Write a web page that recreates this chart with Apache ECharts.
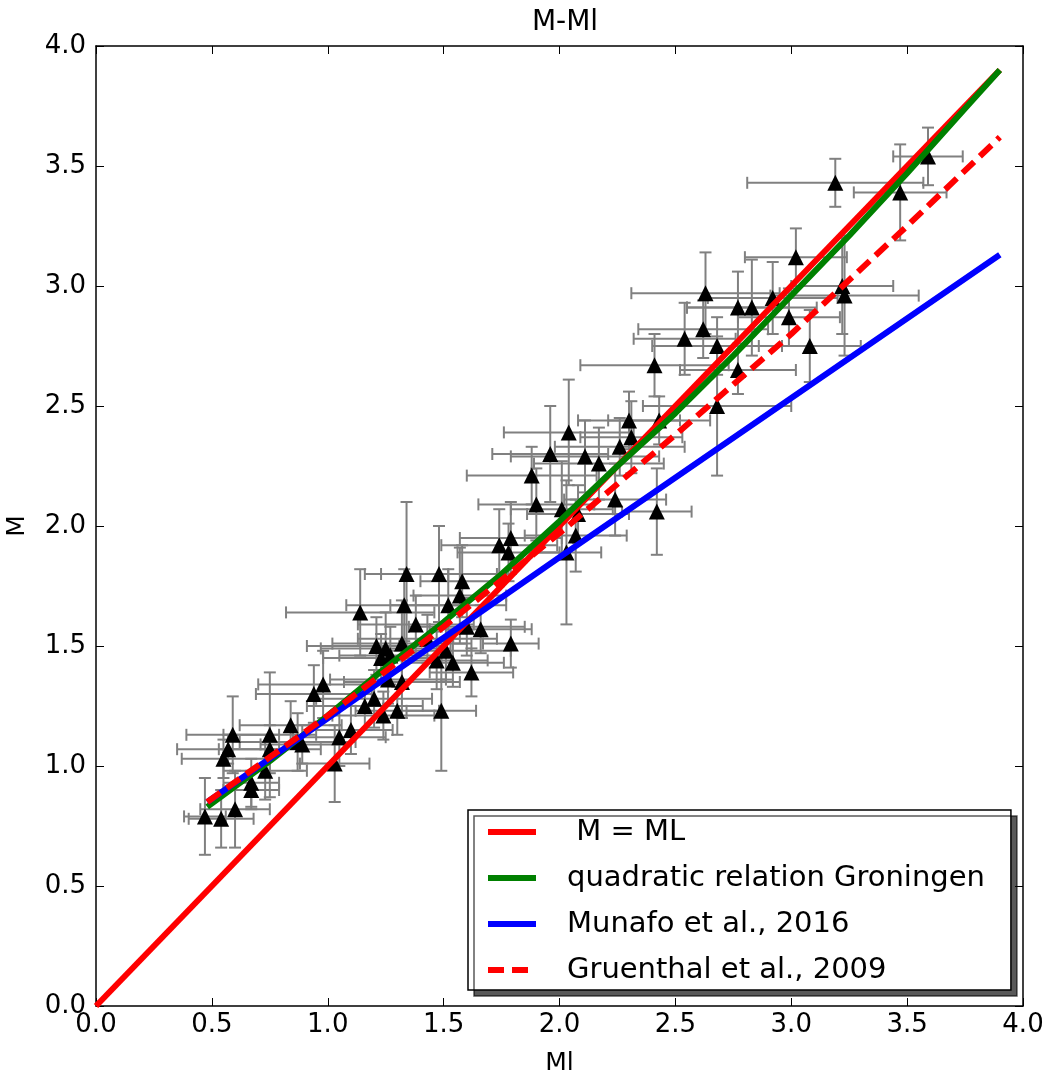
<!DOCTYPE html>
<html>
<head>
<meta charset="utf-8">
<script src="https://cdn.jsdelivr.net/npm/echarts@6/dist/echarts.min.js"></script>
<style>
  html, body { margin: 0; padding: 0; background: #fff; }
  #chart { width: 1050px; height: 1074px; }
</style>
</head>
<body>
<div id="chart"></div>
<script>
// observed events: local magnitude, moment magnitude and their errors
const ml = [0.47, 0.54, 0.60, 0.55, 0.57, 0.59, 0.67, 0.67, 0.73, 0.75, 0.75, 0.84, 0.87, 0.89, 0.94, 0.98, 1.03, 1.05, 1.10,
  1.16, 1.14, 1.20, 1.24, 1.21, 1.23, 1.25, 1.27, 1.26, 1.30, 1.32, 1.32, 1.33, 1.34, 1.38, 1.43, 1.47, 1.48, 1.49, 1.51,
  1.52, 1.54, 1.57, 1.58, 1.60, 1.62, 1.66, 1.79, 1.74, 1.79, 1.78, 1.88, 1.90, 1.96, 2.01, 2.04, 2.07, 2.03, 2.11, 2.17,
  2.24, 2.26, 2.30, 2.31, 2.43, 2.42, 2.41, 2.54, 2.62, 2.63, 2.68, 2.68, 2.77, 2.83, 2.77, 2.92, 2.99, 3.02, 3.19, 3.59,
  3.47, 3.22, 3.23, 3.08, 2.08];
const mw = [0.79, 0.78, 0.82, 1.03, 1.07, 1.13, 0.90, 0.93, 0.98, 1.07, 1.13, 1.17, 1.10, 1.09, 1.30, 1.34, 1.01, 1.12, 1.15,
  1.25, 1.64, 1.28, 1.21, 1.50, 1.45, 1.49, 1.46, 1.36, 1.23, 1.35, 1.51, 1.67, 1.80, 1.59, 1.53, 1.44, 1.80, 1.23, 1.48,
  1.67, 1.43, 1.71, 1.77, 1.58, 1.39, 1.57, 1.51, 1.92, 1.95, 1.89, 2.21, 2.09, 2.30, 2.07, 2.39, 1.96, 1.89, 2.29, 2.26,
  2.11, 2.33, 2.44, 2.37, 2.44, 2.06, 2.67, 2.78, 2.82, 2.97, 2.75, 2.50, 2.91, 2.91, 2.65, 2.95, 2.87, 3.12, 3.43, 3.54,
  3.39, 3.00, 2.96, 2.75, 2.05];
const mlErr = [0.09, 0.14, 0.15, 0.18, 0.22, 0.20, 0.12, 0.12, 0.18, 0.22, 0.20, 0.22, 0.25, 0.18, 0.25, 0.28, 0.15, 0.20, 0.18,
  0.25, 0.32, 0.25, 0.22, 0.30, 0.25, 0.28, 0.22, 0.25, 0.18, 0.25, 0.30, 0.25, 0.18, 0.25, 0.30, 0.22, 0.25, 0.15, 0.28,
  0.25, 0.22, 0.20, 0.18, 0.25, 0.18, 0.22, 0.12, 0.25, 0.22, 0.22, 0.28, 0.25, 0.25, 0.22, 0.28, 0.22, 0.15, 0.32, 0.28,
  0.22, 0.28, 0.22, 0.22, 0.22, 0.15, 0.32, 0.22, 0.28, 0.32, 0.28, 0.32, 0.22, 0.28, 0.25, 0.28, 0.22, 0.22, 0.38, 0.15,
  0.20, 0.22, 0.32, 0.22, 0.22];
const mwErr = [0.16, 0.12, 0.16, 0.08, 0.06, 0.16, 0.08, 0.10, 0.12, 0.10, 0.26, 0.10, 0.12, 0.08, 0.12, 0.14, 0.16, 0.12, 0.10,
  0.10, 0.18, 0.12, 0.10, 0.12, 0.10, 0.15, 0.12, 0.10, 0.10, 0.15, 0.18, 0.15, 0.30, 0.12, 0.10, 0.12, 0.20, 0.25, 0.12,
  0.15, 0.10, 0.20, 0.15, 0.12, 0.10, 0.10, 0.10, 0.15, 0.15, 0.12, 0.12, 0.15, 0.20, 0.20, 0.22, 0.15, 0.30, 0.15, 0.15,
  0.15, 0.12, 0.12, 0.15, 0.10, 0.18, 0.13, 0.15, 0.12, 0.17, 0.12, 0.29, 0.15, 0.20, 0.10, 0.15, 0.12, 0.12, 0.10, 0.12,
  0.20, 0.20, 0.25, 0.15, 0.12];

// relations
const identityLine = [[0.0, 0.0], [3.9, 3.9]];
const groningenLine = [[0.48, 0.83], [0.75, 1.02], [1.0, 1.21], [1.25, 1.41], [1.5, 1.60], [1.75, 1.80], [2.0, 2.02],
  [2.25, 2.25], [2.5, 2.47], [2.75, 2.71], [3.0, 2.96], [3.25, 3.21], [3.5, 3.47], [3.75, 3.74], [3.9, 3.9]];
const munafoLine = [[0.48, 0.85], [2.0, 1.87], [3.9, 3.13]];
const gruenthalLine = [[0.48, 0.85], [1.0, 1.21], [1.5, 1.58], [2.0, 1.97], [2.5, 2.38], [3.0, 2.80], [3.5, 3.25], [3.9, 3.62]];

const legendNames = [' M = ML', 'quadratic relation Groningen', 'Munafo et al., 2016', 'Gruenthal et al., 2009'];

const FONT = 'DejaVu Sans';
const fmt = (v) => v.toFixed(1);

function frameAxis(pos, showLabels, name, nameGap, margin) {
  return {
    type: 'value', position: pos, min: 0, max: 4, interval: 0.5,
    name: name, nameLocation: 'middle', nameGap: nameGap,
    nameTextStyle: { fontFamily: FONT, fontSize: 25, color: '#000' },
    axisLine: { show: true, onZero: false, lineStyle: { color: '#000', width: 1.5 } },
    axisTick: { show: true, inside: true, length: 8, lineStyle: { color: '#000', width: 1 } },
    axisLabel: { show: showLabels, fontFamily: FONT, fontSize: 26, color: '#000', margin: margin, formatter: fmt },
    splitLine: { show: false }
  };
}

const points = ml.map((v, i) => [v, mw[i], mlErr[i], mwErr[i]]);

function errorBars(params, api) {
  const x = api.value(0), y = api.value(1), xe = api.value(2), ye = api.value(3);
  const l = api.coord([x - xe, y]), r = api.coord([x + xe, y]);
  const b = api.coord([x, y - ye]), t = api.coord([x, y + ye]);
  const cap = 6;
  const style = { stroke: '#808080', lineWidth: 2 };
  const seg = (x1, y1, x2, y2) => ({ type: 'line', shape: { x1, y1, x2, y2 }, style });
  return {
    type: 'group',
    children: [
      seg(l[0], l[1], r[0], r[1]),
      seg(b[0], b[1], t[0], t[1]),
      seg(l[0], l[1] - cap, l[0], l[1] + cap),
      seg(r[0], r[1] - cap, r[0], r[1] + cap),
      seg(b[0] - cap, b[1], b[0] + cap, b[1]),
      seg(t[0] - cap, t[1], t[0] + cap, t[1])
    ]
  };
}

function curve(name, data, color, dashed) {
  return {
    name, type: 'line', data, symbol: 'none', smooth: false, z: 5,
    lineStyle: { color, width: 6, type: dashed ? [16, 8] : 'solid' },
    itemStyle: { color }
  };
}

const chart = echarts.init(document.getElementById('chart'));
chart.setOption({
  animation: false,
  backgroundColor: '#fff',
  title: {
    text: 'M-Ml', left: 560, top: 4, textAlign: 'center',
    textStyle: { fontFamily: FONT, fontSize: 28, fontWeight: 'normal', color: '#000' }
  },
  grid: { left: 96, right: 27, top: 46, bottom: 68, containLabel: false, outerBoundsMode: 'none' },
  xAxis: [frameAxis('bottom', true, 'Ml', 45, 6), frameAxis('top', false, '', 0, 6)],
  yAxis: [frameAxis('left', true, 'M', 66, 10), frameAxis('right', false, '', 0, 10)],
  legend: {
    data: legendNames, orient: 'vertical', left: 468, top: 810,
    backgroundColor: '#fff', borderColor: '#000', borderWidth: 1.5, borderRadius: 0,
    shadowColor: 'rgba(0,0,0,0.65)', shadowBlur: 0, shadowOffsetX: 6, shadowOffsetY: 6,
    padding: [6, 26, 4, 17], itemGap: 14, itemWidth: 48, itemHeight: 8,
    itemStyle: { opacity: 0 },
    lineStyle: { width: 6 },
    textStyle: { fontFamily: FONT, fontSize: 29, color: '#000', lineHeight: 32, padding: [0, 0, 0, 26] },
    selectedMode: false
  },
  series: [
    {
      name: 'errors', type: 'custom', renderItem: errorBars, data: points,
      encode: { x: 0, y: 1 }, z: 1, silent: true
    },
    {
      name: 'events', type: 'scatter', data: points, symbol: 'triangle', symbolSize: 16,
      itemStyle: { color: '#000', opacity: 1 }, z: 2, silent: true
    },
    curve(legendNames[0], identityLine, '#ff0000', false),
    curve(legendNames[1], groningenLine, '#008000', false),
    curve(legendNames[2], munafoLine, '#0000ff', false),
    curve(legendNames[3], gruenthalLine, '#ff0000', true)
  ]
});
</script>
</body>
</html>
